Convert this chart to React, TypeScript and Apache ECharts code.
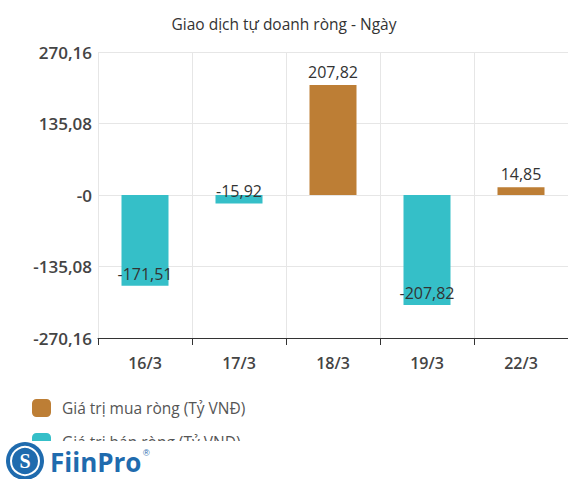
import React, { useEffect, useRef } from "react";
import * as echarts from "echarts";

const categories = ["16/3", "17/3", "18/3", "19/3", "22/3"];
const buyValues: (number | null)[] = [null, null, 207.82, null, 14.85];
const sellValues: (number | null)[] = [-171.51, -15.92, null, -207.82, null];
const yTickValues = [-270.16, -135.08, 0, 135.08, 270.16];
const yTickLabels = ["-270,16", "-135,08", "-0", "135,08", "270,16"];
const seriesNames = ["Giá trị mua ròng (Tỷ VNĐ)", "Giá trị bán ròng (Tỷ VNĐ)"];
const title = "Giao dịch tự doanh ròng - Ngày";

const FONT = "'Open Sans', 'Noto Sans', sans-serif";
const fmt = (v: number) => v.toFixed(2).replace(".", ",");

export default function App() {
  const ref = useRef<HTMLDivElement>(null);
  useEffect(() => {
    if (!ref.current) return;
    const chart = echarts.init(ref.current, undefined, { renderer: "svg" });
    chart.setOption({
      animation: false,
      textStyle: { fontFamily: FONT },
      title: {
        text: title,
        left: "center",
        top: 11,
        textStyle: { fontSize: 15.5, fontWeight: "normal", color: "#333", fontFamily: FONT },
      },
      grid: { left: 98, right: -4, top: 52, bottom: 141, containLabel: false },
      legend: {
        orient: "vertical",
        left: 27,
        top: 394,
        itemWidth: 19,
        itemHeight: 18,
        itemGap: 16,
        icon: "roundRect",
        textStyle: { fontSize: 15.5, color: "#555", fontFamily: FONT, padding: [0, 0, 0, 6] },
        data: seriesNames,
      },
      xAxis: {
        type: "category",
        data: categories,
        axisLine: { onZero: false, lineStyle: { color: "#333", width: 1 } },
        axisTick: { show: true, length: 7, lineStyle: { color: "#333" } },
        axisLabel: { fontSize: 16, fontWeight: 600, color: "#444", margin: 17, fontFamily: FONT },
        splitLine: { show: true, lineStyle: { color: "#e6e6e6" } },
      },
      yAxis: {
        type: "value",
        min: -270.16,
        max: 270.16,
        interval: 135.08,
        axisLine: { show: false },
        axisTick: { show: false },
        splitLine: { show: true, lineStyle: { color: "#e6e6e6" } },
        axisLabel: {
          fontSize: 17,
          fontWeight: 600,
          color: "#444",
          margin: 6,
          fontFamily: FONT,
          formatter: (v: number) => {
            let best = 0;
            for (let i = 0; i < yTickValues.length; i++) {
              if (Math.abs(yTickValues[i] - v) < Math.abs(yTickValues[best] - v)) best = i;
            }
            return yTickLabels[best];
          },
        },
      },
      series: [
        {
          name: seriesNames[0],
          type: "bar",
          data: buyValues,
          barWidth: "50%",
          barGap: "-100%",
          itemStyle: { color: "#BD7E35" },
          label: {
            show: true,
            position: "top",
            distance: 5,
            fontSize: 16,
            color: "#333",
            fontFamily: FONT,
            formatter: (p: any) => fmt(p.value),
          },
        },
        {
          name: seriesNames[1],
          type: "bar",
          data: sellValues,
          barWidth: "50%",
          barGap: "-100%",
          itemStyle: { color: "#35BFC8" },
          label: {
            show: true,
            position: "insideBottom",
            distance: 4,
            fontSize: 16,
            color: "#333",
            fontFamily: FONT,
            formatter: (p: any) => fmt(p.value),
          },
        },
      ],
      graphic: [
        {
          type: "rect",
          z: 100,
          shape: { x: 0, y: 441, width: 568, height: 40 },
          style: { fill: "#fff" },
        },
        {
          type: "circle",
          z: 101,
          shape: { cx: 25, cy: 461, r: 19 },
          style: { fill: "#1F6BAE" },
        },
        {
          type: "circle",
          z: 102,
          shape: { cx: 25, cy: 461, r: 14 },
          style: { fill: "none", stroke: "#fff", lineWidth: 2 },
        },
        {
          type: "text",
          z: 103,
          x: 25,
          y: 461,
          style: {
            text: "S",
            fill: "#fff",
            font: "bold 20px serif",
            align: "center",
            verticalAlign: "middle",
          },
        },
        {
          type: "text",
          z: 103,
          x: 50,
          y: 462,
          style: {
            text: "FiinPro",
            fill: "#1F6BAE",
            font: "bold 26px 'Open Sans', 'Noto Sans', sans-serif",
            verticalAlign: "middle",
          },
        },
        {
          type: "text",
          z: 103,
          x: 143,
          y: 453,
          style: {
            text: "®",
            fill: "#1F6BAE",
            font: "9px sans-serif",
            verticalAlign: "middle",
          },
        },
      ],
    });
    return () => chart.dispose();
  }, []);
  return <div ref={ref} style={{ width: 568, height: 479, position: "absolute", left: 0, top: 0 }} />;
}
